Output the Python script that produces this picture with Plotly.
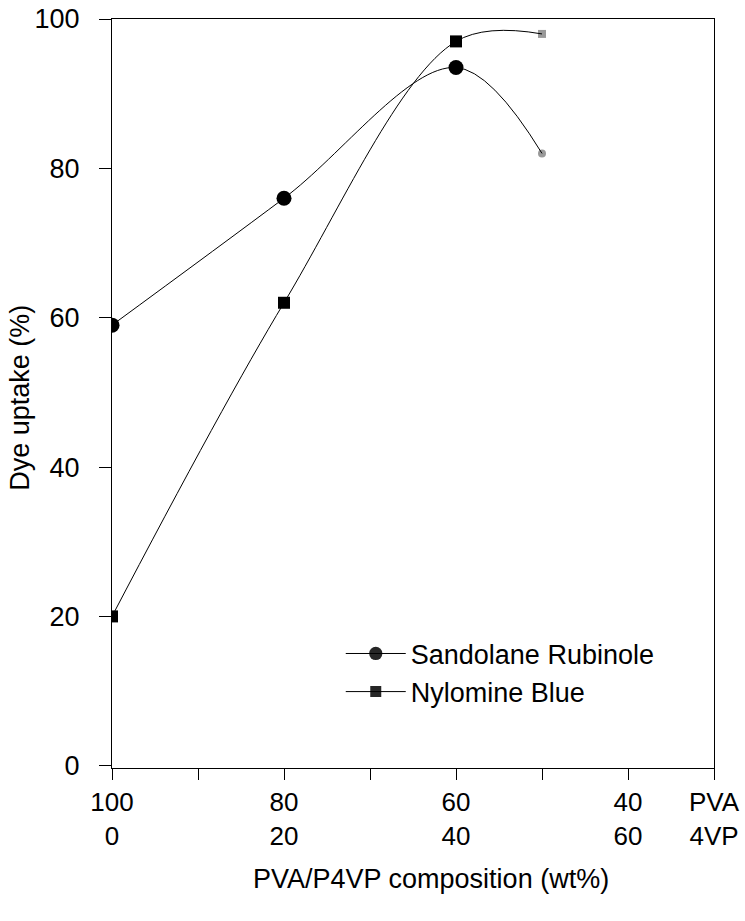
import plotly.graph_objects as go

composition = [100, 80, 60, 50]
sandolane = [59, 76, 93.5, 82]
nylomine = [20, 62, 97, 98]

tick_vals = [100, 90, 80, 70, 60, 50, 40, 30]
tick_text = ["100<br>0", "", "80<br>20", "", "60<br>40", "", "40<br>60", "PVA<br>4VP"]
y_ticks = [0, 20, 40, 60, 80, 100]

FONT = "Arial, Liberation Sans, sans-serif"

fig = go.Figure()
fig.add_trace(go.Scatter(
    x=composition, y=sandolane, name="Sandolane Rubinole",
    mode="lines+markers",
    line=dict(color="black", width=1, shape="spline", smoothing=1.0),
    marker=dict(symbol="circle", size=[15, 15, 15, 8], color="#000000",
                opacity=[1, 1, 1, 0.4], line=dict(width=0)),
))
fig.add_trace(go.Scatter(
    x=composition, y=nylomine, name="Nylomine Blue",
    mode="lines+markers",
    line=dict(color="black", width=1, shape="spline", smoothing=1.0),
    marker=dict(symbol="square", size=[12, 12, 12, 8], color="#000000",
                opacity=[1, 1, 1, 0.4], line=dict(width=0)),
))

fig.update_layout(
    width=745, height=921,
    margin=dict(l=112, r=31, t=19, b=153),
    paper_bgcolor="white", plot_bgcolor="white",
    font=dict(family=FONT, size=27, color="black"),
    showlegend=True,
    legend=dict(x=0.38, y=0.185, xanchor="left", yanchor="top",
                bgcolor="rgba(0,0,0,0)", font=dict(size=27),
                tracegroupgap=0, itemwidth=60),
    xaxis=dict(range=[100, 30], tickvals=tick_vals, ticktext=tick_text,
               ticks="outside", ticklen=11, tickcolor="black",
               showline=True, linecolor="black", linewidth=1, mirror=True,
               showgrid=False, zeroline=False, automargin=False,
               tickfont=dict(size=26)),
    yaxis=dict(range=[-0.3, 100], tickvals=y_ticks,
               ticks="outside", ticklen=12, tickcolor="black",
               ticklabelstandoff=14,
               showline=True, linecolor="black", linewidth=1, mirror=True,
               showgrid=False, zeroline=False, automargin=False,
               tickfont=dict(size=27)),
    annotations=[
        dict(text="Dye uptake (%)", textangle=-90, xref="paper", yref="paper",
             x=-0.152, y=0.495, xanchor="center", yanchor="middle",
             showarrow=False, font=dict(size=27)),
        dict(text="PVA/P4VP composition (wt%)", xref="paper", yref="paper",
             x=0.53, y=-0.148, xanchor="center", yanchor="middle",
             showarrow=False, font=dict(size=27)),
    ],
)

fig.write_html("out.html")
